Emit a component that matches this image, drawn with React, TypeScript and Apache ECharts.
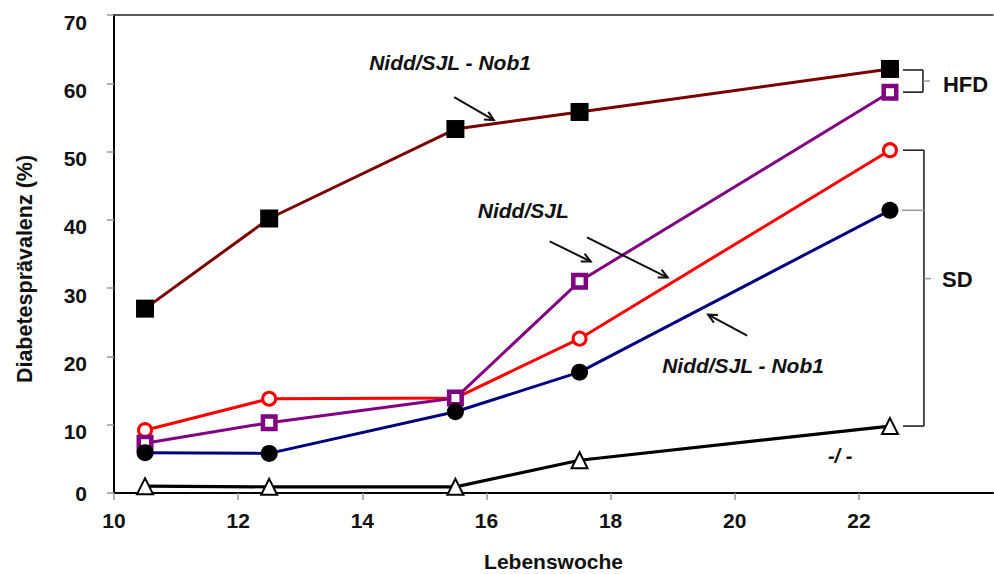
import { useEffect, useRef } from 'react';
import * as echarts from 'echarts';

// Lebenswoche (week of life) at which prevalence was measured
const weeks = [10.5, 12.5, 15.5, 17.5, 22.5];

// Diabetes prevalence (%) per cohort
const hfdNob1 = [27.0, 40.2, 53.3, 55.8, 62.1]; // Nidd/SJL - Nob1, HFD
const hfdNidd = [7.3, 10.3, 13.9, 31.0, 58.7]; // Nidd/SJL, HFD
const sdNidd = [9.2, 13.8, 13.9, 22.6, 50.2]; // Nidd/SJL, SD
const sdNob1 = [5.9, 5.8, 11.9, 17.7, 41.4]; // Nidd/SJL - Nob1, SD
const control = [1.0, 0.9, 0.9, 4.8, 9.8]; // -/-

const xTicks = [10, 12, 14, 16, 18, 20, 22];
const yTicks = [0, 10, 20, 30, 40, 50, 60, 70];

const FONT = "'Liberation Sans', Arial, Helvetica, sans-serif";

// Annotation texts, placed in data units: [x of left edge, y of centre]
const notes: { text: string; at: [number, number]; size: number }[] = [
  { text: 'Nidd/SJL - Nob1', at: [14.11, 63.0], size: 21 },
  { text: 'Nidd/SJL', at: [15.86, 41.3], size: 21 },
  { text: 'Nidd/SJL - Nob1', at: [18.83, 18.6], size: 21 },
  { text: '-/ -', at: [21.5, 5.4], size: 20 },
];

// Arrows in data units: [from, to(tip)]
const arrows: [[number, number], [number, number]][] = [
  [[15.48, 57.97], [16.12, 54.6]],
  [[17.02, 36.84], [17.68, 33.9]],
  [[17.62, 37.42], [18.92, 31.55]],
  [[20.2, 23.04], [19.57, 26.12]],
];

const pairs = (vals: number[]) => weeks.map((w, i) => [w, vals[i]]);

export default function App() {
  const ref = useRef<HTMLDivElement>(null);

  useEffect(() => {
    if (!ref.current) return;
    const chart = echarts.init(ref.current, undefined, { renderer: 'svg' });

    const axisText = { fontFamily: FONT, fontWeight: 'bold' as const, fontSize: 21, color: '#111' };

    chart.setOption({
      animation: false,
      backgroundColor: '#fff',
      grid: { left: 114, right: 1, top: 15, bottom: 81, outerBoundsMode: 'none', containLabel: false },
      xAxis: [
        {
          type: 'value',
          min: 10,
          max: 24.16,
          interval: 2,
          name: 'Lebenswoche',
          nameLocation: 'middle',
          nameGap: 58,
          nameTextStyle: { fontFamily: FONT, fontWeight: 'bold', fontSize: 21, color: '#111' },
          axisLine: { lineStyle: { color: '#000', width: 2 } },
          axisTick: { show: true, length: 7, lineStyle: { color: '#999', width: 1.5 }, customValues: xTicks },
          axisLabel: { ...axisText, margin: 17, customValues: xTicks },
          splitLine: { show: false },
        },
        {
          type: 'value',
          position: 'top',
          min: 10,
          max: 24.16,
          axisLine: { show: true, onZero: false, lineStyle: { color: '#222', width: 1.5 } },
          axisTick: { show: false },
          axisLabel: { show: false },
          splitLine: { show: false },
        },
      ],
      yAxis: {
        type: 'value',
        min: 0,
        max: 70,
        interval: 10,
        name: 'Diabetesprävalenz (%)',
        nameLocation: 'middle',
        nameGap: 78,
        nameTextStyle: {
          fontFamily: FONT,
          fontWeight: 'bold',
          fontSize: 21.5,
          color: '#111',
          padding: [0, 30, 0, 0],
        },
        axisLine: { show: true, lineStyle: { color: '#000', width: 2 } },
        axisTick: { show: true, length: 7, lineStyle: { color: '#999', width: 1.5 }, customValues: yTicks },
        axisLabel: {
          ...axisText,
          margin: 27,
          formatter: (v: number) => (v === 0 ? `{z|${v}}` : `{n|${v}}`),
          rich: {
            n: { ...axisText, padding: [14, 0, 0, 0] },
            z: { ...axisText },
          },
        },
        splitLine: { show: false },
      },
      series: [
        {
          name: 'HFD Nidd/SJL - Nob1',
          type: 'line',
          data: pairs(hfdNob1),
          lineStyle: { color: '#7a0000', width: 3 },
          symbol: 'rect',
          symbolSize: 18,
          itemStyle: { color: '#000', borderColor: '#000', borderWidth: 0 },
          z: 3,
        },
        {
          name: 'SD Nidd/SJL',
          type: 'line',
          data: pairs(sdNidd),
          lineStyle: { color: '#ff0000', width: 3 },
          symbol: 'circle',
          symbolSize: 13,
          itemStyle: { color: '#fff', borderColor: '#ff0000', borderWidth: 3 },
          z: 3,
        },
        {
          name: 'HFD Nidd/SJL',
          type: 'line',
          data: pairs(hfdNidd),
          lineStyle: { color: '#800080', width: 3 },
          symbol: 'rect',
          symbolSize: 12.5,
          itemStyle: { color: '#fff', borderColor: '#800080', borderWidth: 4.5 },
          z: 4,
        },
        {
          name: 'SD Nidd/SJL - Nob1',
          type: 'line',
          data: pairs(sdNob1),
          lineStyle: { color: '#000080', width: 3 },
          symbol: 'circle',
          symbolSize: 17,
          itemStyle: { color: '#000', borderWidth: 0 },
          z: 5,
        },
        {
          name: '-/-',
          type: 'line',
          data: pairs(control),
          lineStyle: { color: '#000', width: 3.2 },
          symbol: 'triangle',
          symbolSize: [16, 16],
          itemStyle: { color: '#fff', borderColor: '#000', borderWidth: 2 },
          z: 5,
        },
      ],
    });

    const px = (x: number, y: number) => chart.convertToPixel({ gridIndex: 0 }, [x, y]) as number[];
    const graphics: any[] = [];

    notes.forEach((n) => {
      const p = px(n.at[0], n.at[1]);
      graphics.push({
        type: 'text',
        x: p[0],
        y: p[1],
        style: {
          text: n.text,
          fontFamily: FONT,
          fontStyle: 'italic',
          fontWeight: 'bold',
          fontSize: n.size,
          fill: '#111',
          align: 'left',
          verticalAlign: 'middle',
        },
        z: 10,
      });
    });

    arrows.forEach(([from, to]) => {
      const a = px(from[0], from[1]);
      const b = px(to[0], to[1]);
      const ang = Math.atan2(b[1] - a[1], b[0] - a[0]);
      const head = 10;
      const spread = 0.45;
      const h1 = [b[0] - head * Math.cos(ang - spread), b[1] - head * Math.sin(ang - spread)];
      const h2 = [b[0] - head * Math.cos(ang + spread), b[1] - head * Math.sin(ang + spread)];
      graphics.push({
        type: 'line',
        shape: { x1: a[0], y1: a[1], x2: b[0], y2: b[1] },
        style: { stroke: '#111', lineWidth: 2 },
        z: 10,
      });
      graphics.push({
        type: 'polyline',
        shape: { points: [h1, b, h2] },
        style: { stroke: '#111', lineWidth: 2, fill: null },
        z: 10,
      });
    });

    // Diet brackets next to the last time point
    const last = weeks[weeks.length - 1];
    const endOf = (vals: number[]) => px(last, vals[vals.length - 1]);
    const stroke = { stroke: '#222', lineWidth: 1.6 };
    const grey = { stroke: '#999', lineWidth: 1.5 };
    const line = (x1: number, y1: number, x2: number, y2: number, style: any) =>
      graphics.push({ type: 'line', shape: { x1, y1, x2, y2 }, style, z: 10 });

    const hTop = endOf(hfdNob1);
    const hBot = endOf(hfdNidd);
    const bx0 = hTop[0] + 13;
    const bx1 = hTop[0] + 33;
    line(bx0, hTop[1] + 1, bx1, hTop[1] + 1, stroke);
    line(bx0, hBot[1], bx1, hBot[1], stroke);
    line(bx1, hTop[1] + 1, bx1, hBot[1], stroke);
    const hMid = (hTop[1] + 1 + hBot[1]) / 2;
    line(bx1, hMid, bx1 + 7, hMid, grey);

    const sTop = endOf(sdNidd);
    const sBot = endOf(control);
    const sMidRow = endOf(sdNob1);
    const sx1 = sTop[0] + 34;
    line(bx0, sTop[1], sx1, sTop[1], stroke);
    line(bx0, sBot[1], sx1, sBot[1], stroke);
    line(sx1, sTop[1], sx1, sBot[1], stroke);
    line(sMidRow[0] + 12, sMidRow[1], sx1, sMidRow[1], grey);
    const sdY = px(last, 31.4)[1];
    line(sx1, sdY, sx1 + 7, sdY, grey);

    const label = (text: string, x: number, y: number) =>
      graphics.push({
        type: 'text',
        x,
        y,
        style: {
          text,
          fontFamily: FONT,
          fontWeight: 'bold',
          fontSize: 22,
          fill: '#111',
          align: 'left',
          verticalAlign: 'middle',
        },
        z: 10,
      });
    label('HFD', hTop[0] + 53, hMid + 3);
    label('SD', hTop[0] + 52, sdY + 1);

    chart.setOption({ graphic: graphics });

    return () => chart.dispose();
  }, []);

  return (
    <div
      ref={ref}
      style={{ position: 'fixed', left: 0, top: 0, width: 994, height: 574, background: '#fff' }}
    />
  );
}
